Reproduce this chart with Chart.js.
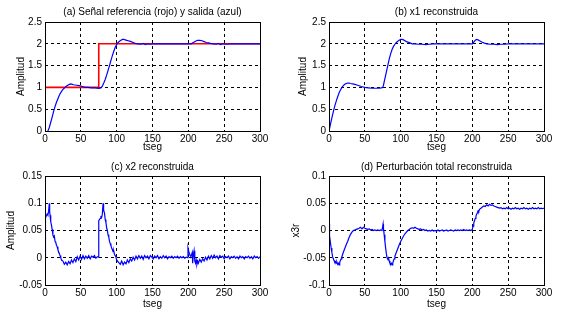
<!DOCTYPE html>
<html>
<head>
<meta charset="utf-8">
<script src="https://cdn.jsdelivr.net/npm/chart.js@4.4.0/dist/chart.umd.min.js"></script>
<style>
  body { margin: 0; background: #fff; }
  #fig { position: relative; width: 562px; height: 314px; }
  canvas { position: absolute; }
</style>
</head>
<body>
<div id="fig">
  <canvas id="cA" width="281" height="157" style="left:0;top:0"></canvas>
  <canvas id="cB" width="281" height="157" style="left:281px;top:0"></canvas>
  <canvas id="cC" width="281" height="157" style="left:0;top:157px"></canvas>
  <canvas id="cD" width="281" height="157" style="left:281px;top:157px"></canvas>
</div>
<script>
// titles / labels
const titles = ['(a) Señal referencia (rojo) y salida (azul)', '(b) x1 reconstruida',
                '(c) x2 reconstruida', '(d) Perturbación total reconstruida'];
const yTitles = ['Amplitud', 'Amplitud', 'Amplitud', 'x3r'];
const xTitle = 'tseg';

// tick values and labels
const xTickVals = [0, 50, 100, 150, 200, 250, 300];
const xTickLabels = ['0', '50', '100', '150', '200', '250', '300'];
const yTickValsAB = [0, 0.5, 1, 1.5, 2, 2.5];
const yTickLabelsAB = ['0', '0.5', '1', '1.5', '2', '2.5'];
const yTickValsC = [-0.05, 0, 0.05, 0.1, 0.15];
const yTickLabelsC = ['-0.05', '0', '0.05', '0.1', '0.15'];
const yTickValsD = [-0.1, -0.05, 0, 0.05, 0.1];
const yTickLabelsD = ['-0.1', '-0.05', '0', '0.05', '0.1'];

// (a) reference (red) and output (blue), [t, value]
const refA = [[0, 1], [75, 1], [75, 2], [300, 2]];
const outA = [[4,0],[6,0.08],[8,0.2],[10,0.32],[12,0.45],[14,0.56],[16,0.66],[18,0.74],[20,0.82],[22,0.88],
  [24,0.93],[26,0.97],[28,1.0],[30,1.03],[32,1.05],[34,1.07],[36,1.08],[38,1.07],[40,1.06],[44,1.05],
  [48,1.04],[52,1.02],[56,1.0],[60,1.0],[65,0.99],[70,0.99],[75,0.98],[78,0.99],[80,1.03],[82,1.1],
  [84,1.18],[86,1.28],[88,1.39],[90,1.5],[92,1.62],[94,1.73],[96,1.83],[98,1.92],[100,1.98],[102,2.03],
  [104,2.06],[106,2.08],[108,2.1],[110,2.1],[112,2.09],[114,2.08],[116,2.07],[118,2.06],[120,2.05],[123,2.03],
  [126,2.01],[130,2.0],[134,1.99],[137,2.01],[140,1.98],[143,2.0],[146,1.99],[150,2.0],[160,2.0],[180,2.0],
  [200,2.0],[204,2.0],[207,2.03],[210,2.06],[213,2.08],[216,2.08],[219,2.07],[222,2.05],[225,2.03],[228,2.02],
  [231,2.01],[235,2.0],[239,1.99],[242,2.01],[245,1.98],[248,2.0],[252,1.99],[260,2.0],[280,2.0],[300,2.0]];

// (b) x1 reconstructed
const x1B = [[0,0],[2,0.15],[4,0.3],[6,0.44],[8,0.57],[10,0.68],[12,0.78],[14,0.87],[16,0.94],[18,1.0],
  [20,1.04],[22,1.07],[24,1.09],[26,1.1],[28,1.1],[30,1.09],[33,1.08],[36,1.07],[40,1.05],[45,1.02],
  [50,1.0],[55,0.99],[60,0.98],[65,0.98],[70,0.98],[73,0.99],[75,1.0],[76,1.05],[78,1.2],[80,1.35],
  [82,1.5],[84,1.65],[86,1.77],[88,1.87],[90,1.94],[92,1.99],[94,2.03],[96,2.06],[98,2.08],[100,2.1],
  [102,2.1],[104,2.09],[106,2.07],[108,2.05],[110,2.04],[113,2.02],[116,2.0],[120,2.0],[125,1.99],[130,1.99],
  [135,1.98],[140,1.99],[145,2.0],[150,2.0],[170,2.0],[200,2.0],[202,2.04],[204,2.08],[206,2.1],[208,2.09],
  [210,2.07],[213,2.04],[216,2.02],[220,2.0],[225,1.99],[230,1.99],[235,1.98],[240,1.99],[245,1.99],[250,2.0],
  [270,2.0],[300,2.0]];

// (c) x2 reconstructed
const x2C = [[0,0],[0.3,0.07],[1,0.073],[2,0.078],[3,0.08],[4,0.078],[5,0.085],[6,0.1],[6.5,0.085],[7,0.078],
  [8,0.066],[9,0.06],[10,0.052],[11,0.042],[12,0.038],[13,0.04],[14,0.03],[15,0.028],[16,0.023],[17,0.02],
  [18,0.015],[19,0.011],[20,0.008],[21,0.004],[22,0.0],
  [23,-0.004],[25,-0.006],[27,-0.012],[29,-0.008],[31,-0.013],[33,-0.007],[35,-0.011],[37,-0.004],[39,-0.009],
  [41,-0.002],[43,-0.007],[45,0.002],[47,-0.004],[49,0.003],[51,-0.003],[53,0.004],[55,-0.002],[57,0.003],
  [59,-0.001],[61,0.004],[63,-0.002],[65,0.003],[67,0.001],[69,0.004],[71,-0.001],[73,0.002],[74.5,0.001],
  [75,0.068],[76,0.07],[77,0.072],[78,0.075],[79,0.074],[80,0.08],[81,0.1],[81.5,0.085],[82,0.088],[83,0.082],
  [84,0.07],[85,0.065],[86,0.055],[87,0.05],[88,0.042],[89,0.038],[90,0.03],[91,0.026],[92,0.022],[93,0.018],
  [94,0.015],[95,0.011],[96,0.012],[97,0.006],[98,0.004],[99,0.001],[100,-0.004],
  [101,-0.006],[103,-0.009],[105,-0.012],[107,-0.006],[109,-0.013],[111,-0.008],[113,-0.011],[115,-0.004],
  [117,-0.009],[119,-0.002],[121,-0.006],[123,0.001],[125,-0.004],[127,0.003],[129,-0.002],[131,0.004],
  [133,-0.001],[135,0.003],[137,-0.003],[139,0.004],[141,0.0],[143,0.003],[145,-0.002],[147,0.004],
  [149,0.001],[151,-0.002],[153,0.003],[155,0.0],[157,0.004],[159,-0.002],[161,0.002],[163,-0.001],
  [165,0.004],[167,0.0],[169,0.003],[171,-0.002],[173,0.002],[175,0.0],[177,0.003],[179,-0.001],
  [181,0.002],[183,0.0],[185,0.003],[187,-0.001],[189,0.002],[191,0.0],[193,0.002],[195,-0.001],
  [197,0.001],[199,0.0],
  [199.5,0.018],[200.5,0.012],[201.5,0.008],[202.5,0.004],[203.5,0.003],[204.5,0.006],[205.5,0.01],[206,-0.01],
  [207,0.005],[208,0.013],[209,-0.006],[210,-0.01],[211,-0.004],[212,-0.012],[213,-0.006],[214,-0.01],
  [216,-0.003],[218,-0.008],[220,-0.002],[222,-0.006],[224,0.001],[226,-0.004],
  [228,0.003],[230,-0.002],[232,0.004],[234,-0.001],[236,0.005],[238,0.0],[240,0.003],[242,-0.002],
  [244,0.004],[246,0.001],[248,0.003],[250,-0.002],[252,0.002],[254,0.0],[256,0.003],[258,-0.002],
  [260,0.002],[262,0.0],[264,0.003],[266,-0.001],[268,0.002],[270,-0.002],[272,0.003],[274,0.0],
  [276,0.002],[278,-0.002],[280,0.002],[282,0.0],[284,0.003],[286,-0.001],[288,0.002],[290,-0.002],
  [292,0.003],[294,0.0],[296,0.002],[298,-0.001],[300,0.002]];

// (d) total disturbance reconstructed
const x3D = [[0,0.012],[0.5,0.0],[1,-0.01],[2,-0.022],[3,-0.032],[4,-0.04],[5,-0.048],[6,-0.052],[7,-0.055],
  [8,-0.058],[9,-0.057],[10,-0.06],[11,-0.058],[12,-0.062],[13,-0.06],[14,-0.063],[15,-0.058],[16,-0.055],
  [17,-0.052],[18,-0.048],[19,-0.044],[20,-0.04],[22,-0.033],[24,-0.026],[26,-0.02],[28,-0.013],[30,-0.007],
  [32,-0.003],[34,0.0],[36,0.001],[38,0.002],[40,0.003],[42,0.004],[44,0.006],[46,0.003],[48,0.006],
  [50,0.004],[52,0.003],[54,0.002],[56,0.003],[58,0.001],[60,0.002],[62,0.0],[64,0.001],[66,0.0],
  [68,0.001],[70,0.0],[72,0.001],[74,0.0],[75.5,0.012],[76,0.004],[77,-0.008],[78,-0.02],[79,-0.032],
  [80,-0.042],[81,-0.05],[82,-0.052],[83,-0.05],[84,-0.056],[85,-0.06],[86,-0.062],[87,-0.06],[88,-0.063],
  [89,-0.06],[90,-0.055],[91,-0.052],[92,-0.047],[94,-0.04],[96,-0.033],[98,-0.026],[100,-0.02],
  [102,-0.015],[104,-0.01],[106,-0.006],[108,-0.003],[110,0.0],[112,0.002],[114,0.004],[116,0.005],
  [118,0.004],[120,0.006],[122,0.004],[124,0.003],[126,0.002],[128,0.003],[130,0.001],[132,0.002],
  [134,0.0],[136,0.001],[138,-0.001],[140,0.0],[142,-0.001],[144,0.001],[146,-0.001],[148,0.0],
  [150,-0.001],[152,0.001],[154,-0.001],[156,0.0],[158,0.001],[160,-0.001],[162,0.0],[164,0.001],
  [166,-0.001],[168,0.0],[170,0.001],[172,0.0],[174,-0.001],[176,0.001],[178,0.0],[180,0.001],
  [182,0.0],[184,0.001],[186,0.0],[188,0.002],[190,0.0],[192,0.001],[194,0.0],[196,0.001],[198,0.0],
  [200,0.002],[201,0.008],[202,0.014],[203,0.018],[204,0.022],[205,0.026],[206,0.03],[207,0.032],
  [208,0.036],[209,0.035],[210,0.039],[212,0.041],[214,0.043],[216,0.045],[218,0.044],[220,0.047],
  [222,0.045],[224,0.048],[226,0.046],[228,0.047],[230,0.045],[232,0.044],[234,0.043],[236,0.042],
  [238,0.041],[240,0.042],[242,0.04],[244,0.041],[246,0.04],[248,0.042],[250,0.04],[252,0.041],
  [254,0.039],[256,0.041],[258,0.04],[260,0.042],[262,0.04],[264,0.041],[266,0.039],[268,0.041],
  [270,0.04],[272,0.042],[274,0.04],[276,0.041],[278,0.039],[280,0.041],[282,0.04],[284,0.042],
  [286,0.04],[288,0.041],[290,0.04],[292,0.042],[294,0.04],[296,0.041],[298,0.04],[300,0.041]];

const FONT = { family: '"Liberation Sans", Arial, sans-serif', size: 10, weight: 'normal' };
const BLUE = '#0000ff';
const RED = '#ff0000';

function pts(list) { return list.map(p => ({ x: p[0], y: p[1] })); }

function line(list, color, width, order) {
  return { data: pts(list), borderColor: color, borderWidth: width, pointRadius: 0,
           tension: 0, fill: false, order: order };
}

// solid axes box like matlab
const boxPlugin = {
  id: 'box',
  afterDraw(chart) {
    const a = chart.chartArea, ctx = chart.ctx;
    ctx.save();
    ctx.setLineDash([]);
    ctx.strokeStyle = '#000';
    ctx.lineWidth = 1;
    ctx.strokeRect(Math.round(a.left) + 0.5, Math.round(a.top) + 0.5,
                   Math.round(a.right - a.left), Math.round(a.bottom - a.top));
    ctx.restore();
  }
};

function makeChart(id, datasets, k, yMin, yMax, yVals, yLabels, g) {
  return new Chart(document.getElementById(id), {
    type: 'line',
    data: { datasets: datasets },
    options: {
      responsive: false,
      animation: false,
      devicePixelRatio: 1,
      layout: { padding: { left: 0, right: g.right, top: 0, bottom: 0 } },
      plugins: {
        legend: { display: false },
        tooltip: { enabled: false },
        title: {
          display: true, text: titles[k], fullSize: false, color: '#000', font: FONT,
          padding: { top: g.tTop, bottom: g.tBot }
        }
      },
      scales: {
        x: {
          type: 'linear', min: 0, max: 300,
          afterBuildTicks: s => { s.ticks = xTickVals.map(v => ({ value: v })); },
          afterFit: s => { s.height = g.bottom; },
          ticks: { callback: (v, i) => xTickLabels[i], color: '#000', font: FONT, padding: 2,
                   maxRotation: 0, autoSkip: false },
          grid: { color: '#000', lineWidth: 1, drawTicks: false },
          border: { display: false, dash: [3, 3] },
          title: { display: true, text: xTitle, color: '#000', font: FONT, padding: { top: 0, bottom: 4 } }
        },
        y: {
          type: 'linear', min: yMin, max: yMax,
          afterBuildTicks: s => { s.ticks = yVals.map(v => ({ value: v })); },
          afterFit: s => { s.width = g.left; },
          ticks: { callback: (v, i) => yLabels[i], color: '#000', font: FONT, padding: 3, autoSkip: false },
          grid: { color: '#000', lineWidth: 1, drawTicks: false },
          border: { display: false, dash: [3, 3] },
          title: { display: true, text: yTitles[k], color: '#000', font: FONT, padding: { top: g.yt, bottom: 0 } }
        }
      }
    },
    plugins: [boxPlugin]
  });
}

makeChart('cA', [line(outA, BLUE, 1.2, 0), line(refA, RED, 1.6, 1)], 0, 0, 2.5, yTickValsAB, yTickLabelsAB,
  { left: 45, right: 21, bottom: 26, tTop: 6, tBot: 4, yt: 15 });
makeChart('cB', [line(x1B, BLUE, 1.2, 0)], 1, 0, 2.5, yTickValsAB, yTickLabelsAB,
  { left: 48, right: 18, bottom: 26, tTop: 6, tBot: 4, yt: 16.5 });
makeChart('cC', [line(x2C, BLUE, 1.2, 0)], 2, -0.05, 0.15, yTickValsC, yTickLabelsC,
  { left: 45, right: 21, bottom: 29, tTop: 4, tBot: 3, yt: 5 });
makeChart('cD', [line(x3D, BLUE, 1.2, 0)], 3, -0.1, 0.1, yTickValsD, yTickLabelsD,
  { left: 48, right: 18, bottom: 29, tTop: 4, tBot: 3, yt: 9 });
</script>
</body>
</html>
